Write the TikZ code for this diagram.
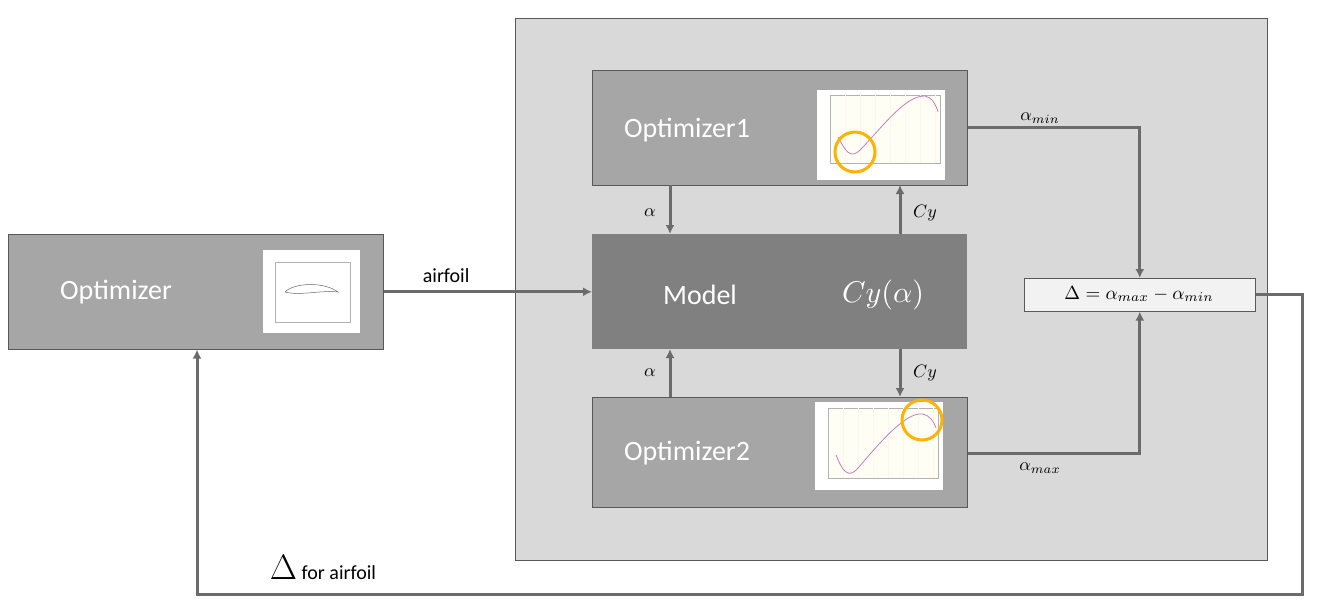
\documentclass[tikz,border=0pt]{standalone}
\usepackage{fontspec}
\setmainfont{Carlito}
\usetikzlibrary{arrows.meta}
\newcommand{\mymath}[2]{\scalebox{#1}{$#2$}}
\begin{document}
\begin{tikzpicture}[x=1pt,y=-1pt,
  box/.style={draw=gray!70!black,line width=0.6pt,anchor=north west},
  arr/.style={draw=black!58,line width=3pt,-{Latex[length=9pt,width=9pt]}},
  lbl/.style={font=\fontsize{20}{24}\selectfont},
  title/.style={text=white,font=\fontsize{28}{32}\selectfont},
  thumb/.style={fill=white,draw=none},
  ring/.style={draw=orange!60!yellow,line width=3pt}]
\useasboundingbox (0,0) rectangle (1328,614);
\fill[white] (0,0) rectangle (1328,614);
\node[box,fill=black!15,minimum width=752pt,minimum height=542pt,inner sep=0] (big) at (515,18) {};
\node[box,fill=black!35,minimum width=375pt,minimum height=115pt,inner sep=0] (opt) at (8,234) {};
\node[box,fill=black!35,minimum width=375pt,minimum height=115pt,inner sep=0] (o1) at (592,70) {};
\node[box,fill=black!50,draw=none,minimum width=375pt,minimum height=115pt,inner sep=0] (mod) at (592,234) {};
\node[box,fill=black!35,minimum width=375pt,minimum height=110pt,inner sep=0] (o2) at (592,397) {};
\node[box,fill=black!5,minimum width=231pt,minimum height=33pt,inner sep=0] (dl) at (1024,278) {};
\node[title] (tOpt) at (116,292) {Optimizer};
\node[title] (t1) at (687,130) {Optimizer1};
\node[title] (t2) at (687,453) {Optimizer2};
\node[title] (tm) at (700,295) {Model};
\node[text=white] (tc) at (883,295) {\mymath{3}{Cy(\mathrm{\alpha})}};
\node (td) at (1139,294) {\mymath{1.9}{\Delta=\alpha_{max}-\alpha_{min}}};
% thumbnails
\node[thumb,anchor=north west,minimum width=97pt,minimum height=83pt] (th0) at (263,250) {};
\draw[black!30,line width=0.4pt] (275,262) rectangle (350,322);
\draw[black!60,line width=0.5pt] (285,292) .. controls (295,282) and (325,282) .. (338,292) .. controls (320,290) and (300,296) .. (285,292);
\node[thumb,anchor=north west,minimum width=128pt,minimum height=90pt] (th1) at (817,90) {};
\fill[yellow!4] (830,95) rectangle (940,163);
\draw[black!30,line width=0.4pt] (830,95) rectangle (940,163);
\foreach \x in {845,860,...,935} \draw[orange!8,line width=0.3pt] (\x,95)--(\x,163);
\draw[violet!50,line width=0.8pt] (838,137) .. controls (845,150) and (850,160) .. (860,150) .. controls (880,130) and (905,95) .. (925,96) .. controls (932,97) and (936,105) .. (938,112);
\draw[ring] (855,152) circle (20);
\node[thumb,anchor=north west,minimum width=128pt,minimum height=88pt] (th2) at (815,402) {};
\fill[yellow!4] (828,408) rectangle (938,478);
\draw[black!30,line width=0.4pt] (828,408) rectangle (938,478);
\foreach \x in {843,858,...,933} \draw[orange!8,line width=0.3pt] (\x,408)--(\x,478);
\draw[violet!50,line width=0.8pt] (836,455) .. controls (842,470) and (848,480) .. (858,468) .. controls (878,445) and (905,412) .. (922,414) .. controls (930,415) and (934,422) .. (936,428);
\draw[ring] (922,420) circle (20);
% connectors
\coordinate (a1) at (670,185); \coordinate (a2) at (670,234);
\coordinate (c1) at (900,234); \coordinate (c2) at (900,185);
\coordinate (a3) at (670,397); \coordinate (a4) at (670,349);
\coordinate (c3) at (900,349); \coordinate (c4) at (900,397);
\coordinate (fb) at (1302,594);
\draw[arr] (opt.east) -- (mod.west) node[pos=0.3,above=4pt,lbl,black] {airfoil};
\draw[arr] (a1) -- (a2); \draw[arr] (c1) -- (c2);
\draw[arr] (a3) -- (a4); \draw[arr] (c3) -- (c4);
\node at (650,213) {\mymath{1.8}{\alpha}};
\node at (925,213) {\mymath{1.8}{Cy}};
\node at (650,373) {\mymath{1.8}{\alpha}};
\node at (925,373) {\mymath{1.8}{Cy}};
\draw[arr] (o1.east |- 0,127) -| (dl.north);
\draw[arr] (o2.east |- 0,453) -| (dl.south);
\node at (1040,118) {\mymath{1.8}{\alpha_{min}}};
\node at (1040,468) {\mymath{1.8}{\alpha_{max}}};
\draw[arr] (dl.east) -| (fb) -| (opt.south -| 197,0);
\node[lbl] at (323,568) {\mymath{1.7}{\Delta} for airfoil};
\end{tikzpicture}
\end{document}
